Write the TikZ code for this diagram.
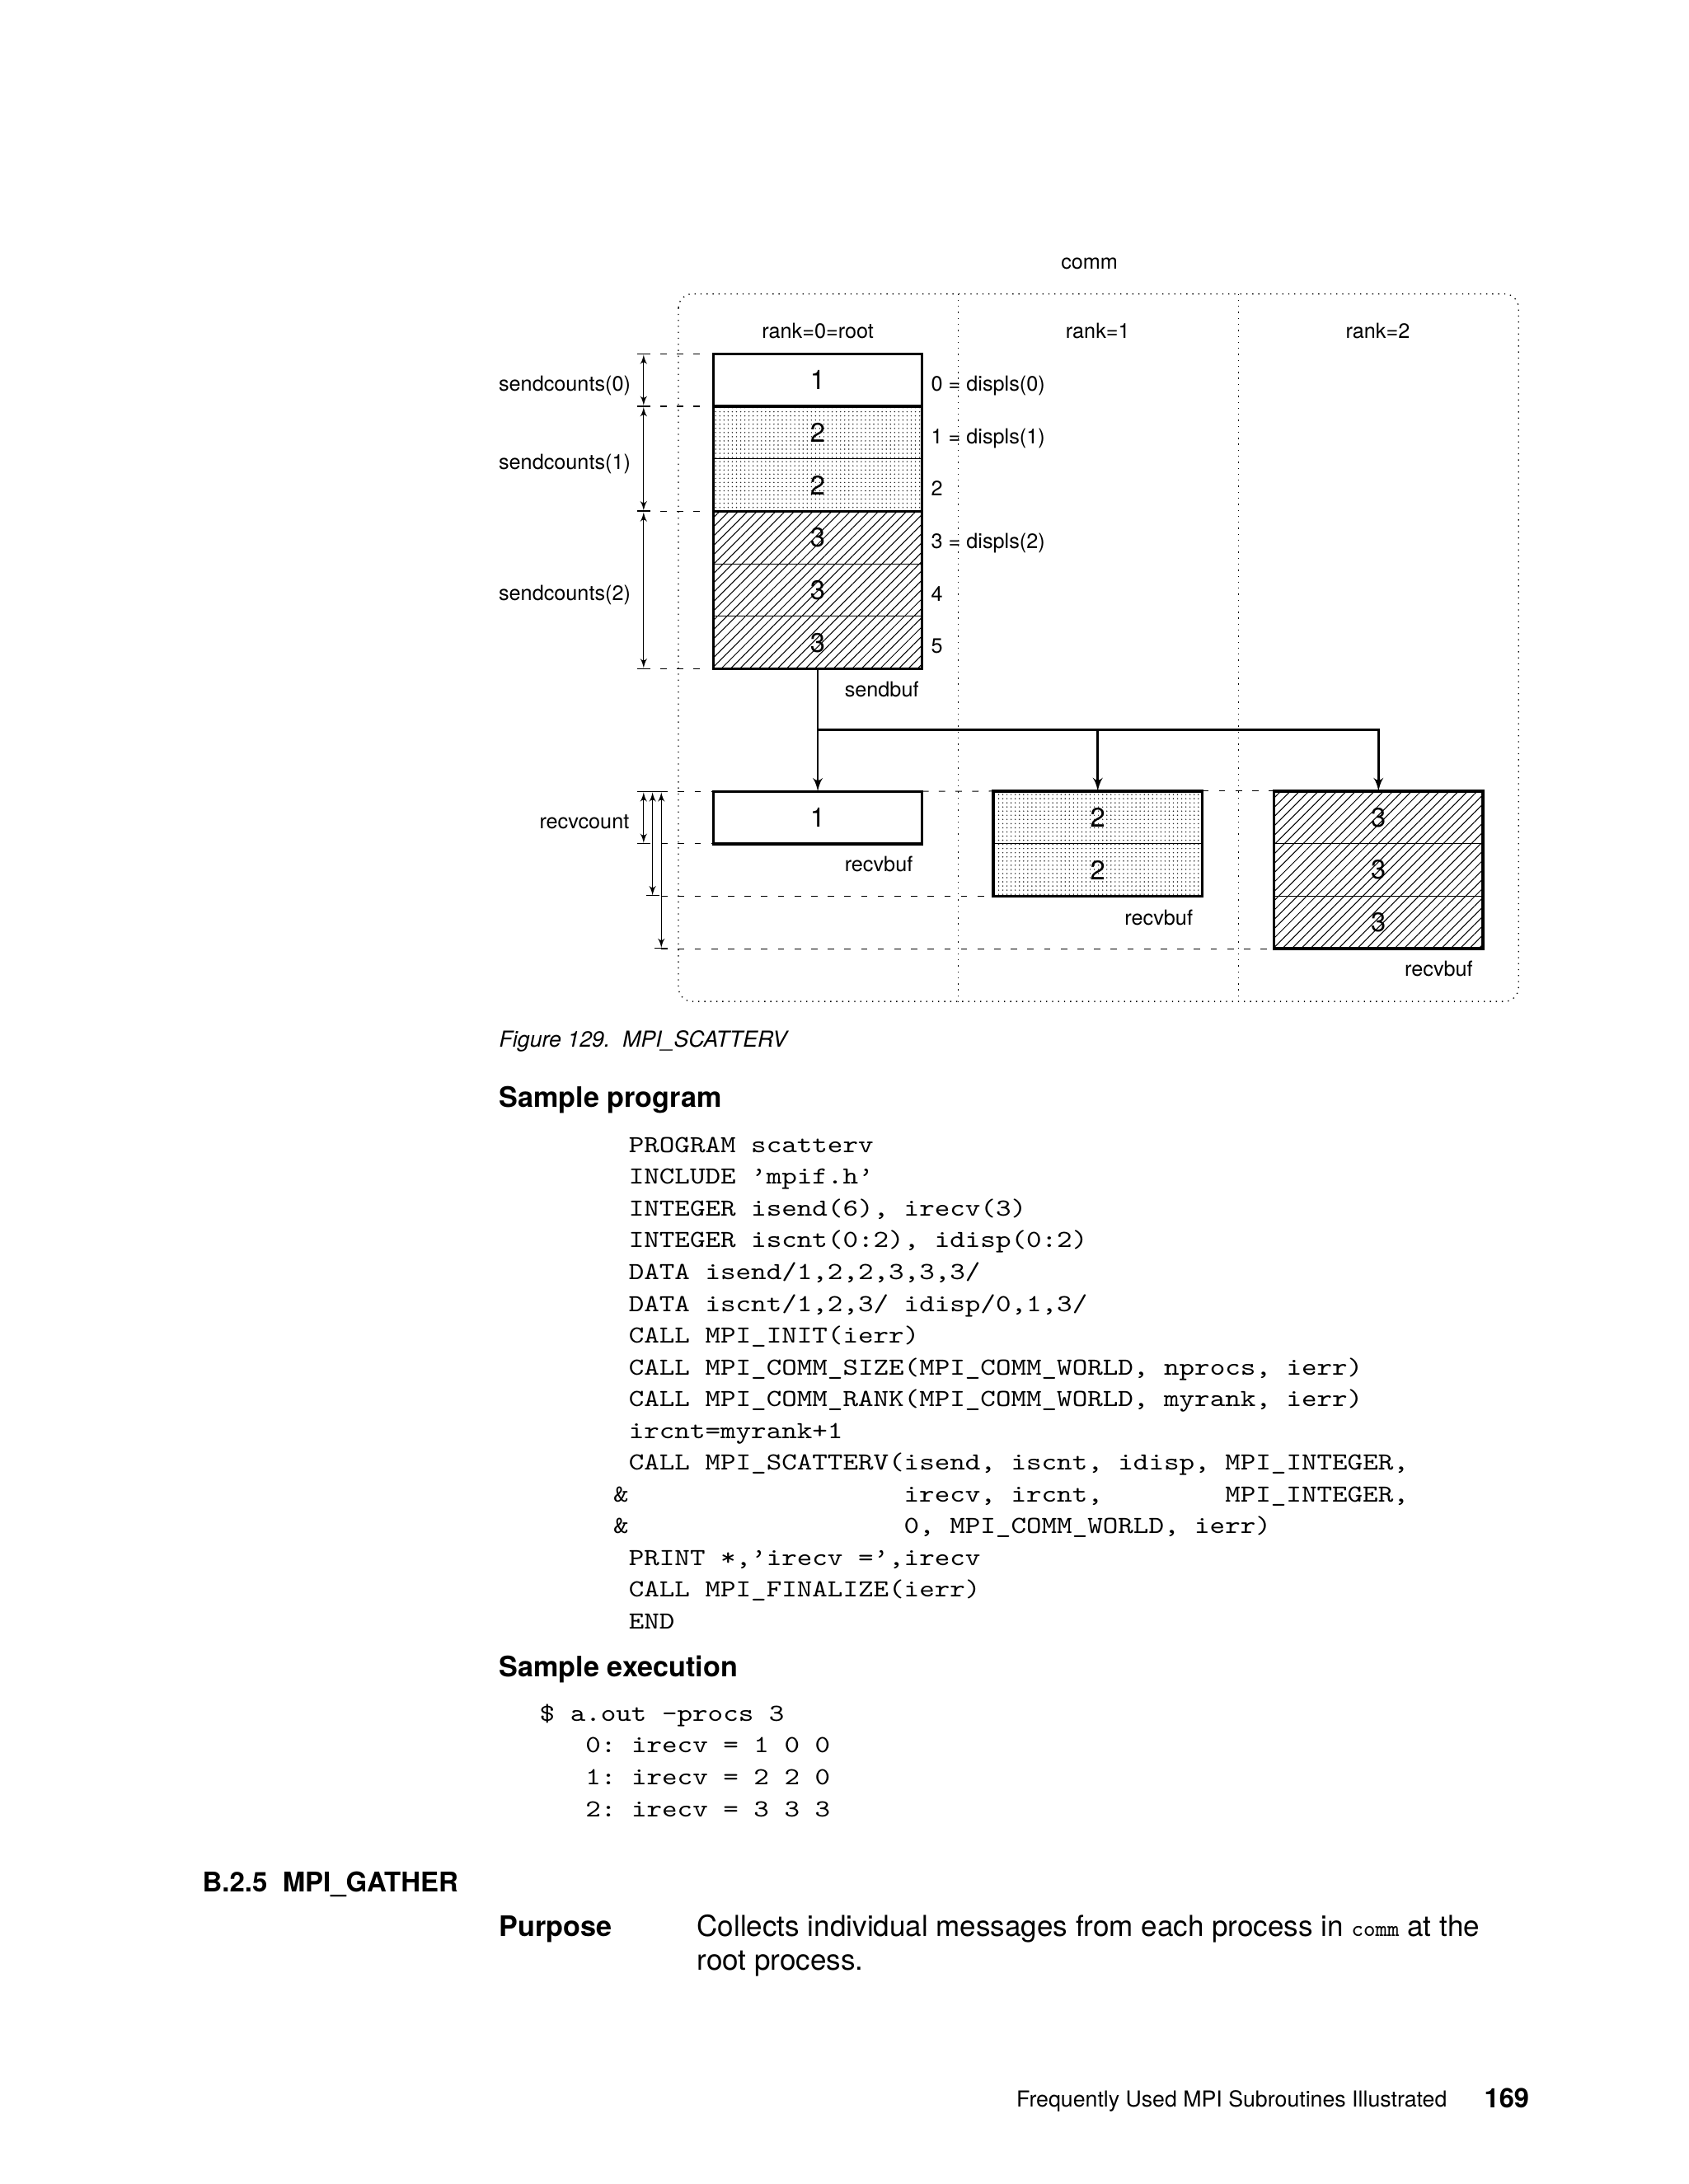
\documentclass[tikz,border=0pt]{standalone}
\usepackage{fontspec}
\setmainfont{TeX Gyre Heros}
\usetikzlibrary{arrows}
\usetikzlibrary{patterns}
\usetikzlibrary{patterns.meta}
\tikzstyle{arr}=[->,>=latex',draw=black,line width=0.9pt]
\tikzstyle{dim}=[|<->|,>=latex',draw=black,line width=0.35pt]
\tikzstyle{ext}=[draw=black,line width=0.35pt,dash pattern=on 2.6pt off 4.2pt]
\tikzstyle{commline}=[draw=black,line width=0.45pt,dotted]
\tikzstyle{cell}=[rectangle,draw=black,line width=0.35pt,minimum width=3cm,minimum height=0.754cm,inner sep=0pt,outer sep=0pt,font=\fontsize{11}{13}\selectfont]
\tikzstyle{dotcell}=[cell,pattern={Dots[distance=1.7pt,radius=0.28pt]},pattern color=black!85]
\tikzstyle{hatchcell}=[cell,pattern={Lines[angle=45,distance=2.7pt,line width=0.35pt]}]
\tikzstyle{buf}=[draw=black,line width=1.1pt]
\tikzstyle{lbl}=[inner sep=0pt,font=\fontsize{8.5}{10}\selectfont]
\tikzstyle{head}=[inner sep=0pt,anchor=base west,font=\fontsize{11.5}{14}\selectfont\bfseries]
\tikzstyle{body}=[inner sep=0pt,anchor=base west,font=\fontsize{11.8}{14}\selectfont]
\tikzstyle{codeline}=[inner sep=0pt,anchor=base west]
\newcommand{\code}[1]{\scalebox{1.19}[1]{\ttfamily\fontsize{10}{12}\selectfont\frenchspacing #1}}

\begin{document}
\begin{tikzpicture}[x=0.02cm,y=-0.02cm]
    \fill[white] (0,0) rectangle (1212,1568);
    \useasboundingbox (0,0) rectangle (1212,1568);
    % the communicator
    \draw[commline,rounded corners=0.2cm] (487,211) rectangle (1090,719);
    \draw[commline] (688,211) -- (688,719);
    \draw[commline] (889,211) -- (889,719);
    \node[lbl,anchor=base] (comm) at (782,193) {comm};
    \node[lbl,anchor=base] (rank0) at (587,243) {rank=0=root};
    \node[lbl,anchor=base] (rank1) at (788,243) {rank=1};
    \node[lbl,anchor=base] (rank2) at (989,243) {rank=2};
    % send buffer on the root
    \node[cell] (s1) at (587,272.85) {1};
    \node[dotcell] (s2) at (587,310.55) {2};
    \node[dotcell] (s3) at (587,348.25) {2};
    \node[hatchcell] (s4) at (587,385.95) {3};
    \node[hatchcell] (s5) at (587,423.65) {3};
    \node[hatchcell] (s6) at (587,461.35) {3};
    \draw[buf] (s1.north west) rectangle (s6.south east);
    \draw[buf] (s1.south west) -- (s1.south east);
    \draw[buf] (s3.south west) -- (s3.south east);
    \node[lbl,anchor=base west] (sendbuf) at (606,500) {sendbuf};
    \node[lbl,anchor=base west] (d0) at (668,281) {0 = displs(0)};
    \node[lbl,anchor=base west] (d1) at (668,318.5) {1 = displs(1)};
    \node[lbl,anchor=base west] (d2) at (668,356) {2};
    \node[lbl,anchor=base west] (d3) at (668,394) {3 = displs(2)};
    \node[lbl,anchor=base west] (d4) at (668,431.5) {4};
    \node[lbl,anchor=base west] (d5) at (668,469) {5};
    % sendcounts
    \coordinate (dimx) at (462,0);
    \coordinate (extr) at (506,0);
    \draw[dim] (dimx |- s1.north) -- (dimx |- s1.south);
    \draw[dim] (dimx |- s2.north) -- (dimx |- s3.south);
    \draw[dim] (dimx |- s4.north) -- (dimx |- s6.south);
    \draw[ext] (dimx |- s1.north) -- (extr |- s1.north);
    \draw[ext] (dimx |- s1.south) -- (extr |- s1.south);
    \draw[ext] (dimx |- s3.south) -- (extr |- s3.south);
    \draw[ext] (dimx |- s6.south) -- (extr |- s6.south);
    \node[lbl,anchor=base east] (sc0) at (453,281) {sendcounts(0)};
    \node[lbl,anchor=base east] (sc1) at (453,337) {sendcounts(1)};
    \node[lbl,anchor=base east] (sc2) at (453,431) {sendcounts(2)};
    % receive buffers
    \node[cell] (r0a) at (587,587) {1};
    \node[dotcell] (r1a) at (788,586.85) {2};
    \node[dotcell] (r1b) at (788,624.55) {2};
    \node[hatchcell] (r2a) at (989.5,586.85) {3};
    \node[hatchcell] (r2b) at (989.5,624.55) {3};
    \node[hatchcell] (r2c) at (989.5,662.25) {3};
    \draw[buf] (r0a.north west) rectangle (r0a.south east);
    \draw[buf] (r1a.north west) rectangle (r1b.south east);
    \draw[buf] (r2a.north west) rectangle (r2c.south east);
    \node[lbl,anchor=base west] (recv0) at (606,626) {recvbuf};
    \node[lbl,anchor=base west] (recv1) at (807,664) {recvbuf};
    \node[lbl,anchor=base west] (recv2) at (1008,701) {recvbuf};
    % scatter
    \coordinate (split) at (587,524);
    \draw[arr] (s6.south) -- (r0a.north);
    \draw[arr] (split) -| (r1a.north);
    \draw[arr] (split) -| (r2a.north);
    % recvcount
    \coordinate (rcx1) at (462,0);
    \coordinate (rcx2) at (468.4,0);
    \coordinate (rcx3) at (474.7,0);
    \draw[dim] (rcx1 |- r0a.north) -- (rcx1 |- r0a.south);
    \draw[dim] (rcx2 |- r0a.north) -- (rcx2 |- r1b.south);
    \draw[dim] (rcx3 |- r0a.north) -- (rcx3 |- r2c.south);
    \draw[ext] (rcx3 |- r0a.north) -- (r0a.north west);
    \draw[ext] (r0a.north east) -- (r1a.north west);
    \draw[ext] (r1a.north east) -- (r2a.north west);
    \draw[ext] (rcx3 |- r0a.south) -- (r0a.south west);
    \draw[ext] (rcx3 |- r1b.south) -- (r1b.south west);
    \draw[ext] (rcx3 |- r2c.south) -- (r2c.south west);
    \node[lbl,anchor=base east] (rc) at (452,595) {recvcount};
    % text of the page
    \node[inner sep=0pt,anchor=base west,font=\fontsize{9}{11}\selectfont\itshape] (cap) at (358,751.5) {Figure 129.\ \ MPI\_SCATTERV};
    \node[head] (hprog) at (358,795) {Sample program};
    \node[codeline] (p1) at (451,827.4) {\code{PROGRAM scatterv}};
    \node[codeline] (p2) at (451,850.2) {\code{INCLUDE ’mpif.h’}};
    \node[codeline] (p3) at (451,873) {\code{INTEGER isend(6), irecv(3)}};
    \node[codeline] (p4) at (451,895.8) {\code{INTEGER iscnt(0:2), idisp(0:2)}};
    \node[codeline] (p5) at (451,918.6) {\code{DATA isend/1,2,2,3,3,3/}};
    \node[codeline] (p6) at (451,941.4) {\code{DATA iscnt/1,2,3/ idisp/0,1,3/}};
    \node[codeline] (p7) at (451,964.2) {\code{CALL MPI\_INIT(ierr)}};
    \node[codeline] (p8) at (451,987) {\code{CALL MPI\_COMM\_SIZE(MPI\_COMM\_WORLD, nprocs, ierr)}};
    \node[codeline] (p9) at (451,1009.8) {\code{CALL MPI\_COMM\_RANK(MPI\_COMM\_WORLD, myrank, ierr)}};
    \node[codeline] (p10) at (451,1032.6) {\code{ircnt=myrank+1}};
    \node[codeline] (p11) at (451,1055.4) {\code{CALL MPI\_SCATTERV(isend, iscnt, idisp, MPI\_INTEGER,}};
    \node[codeline] (p12) at (440,1078.2) {\code{\&\hspace*{9.45em}irecv, ircnt,\hspace*{4.2em}MPI\_INTEGER,}};
    \node[codeline] (p13) at (440,1101) {\code{\&\hspace*{9.45em}0, MPI\_COMM\_WORLD, ierr)}};
    \node[codeline] (p14) at (451,1123.8) {\code{PRINT *,’irecv =’,irecv}};
    \node[codeline] (p15) at (451,1146.6) {\code{CALL MPI\_FINALIZE(ierr)}};
    \node[codeline] (p16) at (451,1169.4) {\code{END}};
    \node[head] (hexec) at (358,1204) {Sample execution};
    \node[codeline] (x1) at (387,1235.5) {\code{\$ a.out -procs 3}};
    \node[codeline] (x2) at (420,1258.5) {\code{0: irecv = 1 0 0}};
    \node[codeline] (x3) at (420,1281.5) {\code{1: irecv = 2 2 0}};
    \node[codeline] (x4) at (420,1304.5) {\code{2: irecv = 3 3 3}};
    \node[inner sep=0pt,anchor=base west,font=\fontsize{11.1}{13}\selectfont\bfseries] (sect) at (145,1358.5) {B.2.5\ \ MPI\_GATHER};
    \node[head] (purp) at (358,1390) {Purpose};
    \node[body] (purp1) at (500,1390) {Collects individual messages from each process in {\ttfamily\fontsize{9.3}{11}\selectfont comm} at the};
    \node[body] (purp2) at (500,1414.7) {root process.};
    \node[inner sep=0pt,anchor=base east,font=\fontsize{9}{11}\selectfont] (foot) at (1039,1512.7) {Frequently Used MPI Subroutines Illustrated};
    \node[inner sep=0pt,anchor=base east,font=\fontsize{11}{13}\selectfont\bfseries] (page) at (1098,1513) {169};
\end{tikzpicture}
\end{document}
